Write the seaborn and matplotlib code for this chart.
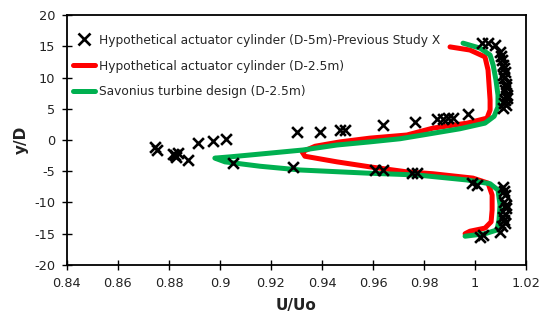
import matplotlib
matplotlib.use("Agg")
import matplotlib.pyplot as plt
import seaborn as sns
import pandas as pd
from matplotlib.ticker import FuncFormatter
from matplotlib.lines import Line2D

# Previous study markers (U/Uo, y/D)
prev_x = [0.8745, 0.8753, 0.8816, 0.8824, 0.8835, 0.8827, 0.8875, 0.8914, 0.8973, 0.9024,
          0.9051, 0.9302, 0.9286, 0.9392, 0.9471, 0.9490, 0.9639, 0.9608, 0.9639, 0.9765,
          0.9851, 0.9875, 0.9894, 0.9914, 0.9973, 0.9753, 0.9773, 0.9988, 1.0008,
          1.0027, 1.0051, 1.0078, 1.0098, 1.0106, 1.0110, 1.0118, 1.0114, 1.0122, 1.0118,
          1.0125, 1.0118, 1.0122, 1.0110, 1.0102, 1.0112, 1.0120, 1.0108, 1.0126, 1.0115,
          1.0110, 1.0118, 1.0114, 1.0122, 1.0118, 1.0114, 1.0106, 1.0098, 1.0020, 1.0031,
          1.0112, 1.0120, 1.0108, 1.0116]
prev_y = [-1.1, -1.6, -2.2, -2.4, -2.1, -2.7, -3.2, -0.5, -0.2, 0.2,
          -3.7, 1.3, -4.3, 1.3, 1.6, 1.6, 2.4, -4.8, -4.8, 2.9,
          3.4, 3.4, 3.5, 3.5, 4.2, -5.3, -5.3, -6.9, -7.2,
          15.5, 15.5, 15.2, 14.1, 12.8, 12.0, 10.9, 9.9, 9.0, 8.0,
          7.2, 6.4, 5.6, 5.1, 13.4, 11.5, 8.5, 10.4, 6.8, 6.0,
          -7.5, -8.8, -9.9, -10.9, -11.8, -12.8, -13.8, -14.7, -15.5, -15.2,
          -8.2, -10.4, -12.3, -13.3]

# Hypothetical actuator cylinder (D-2.5m)
act_x = [0.9902, 0.9980, 1.0039, 1.0051, 1.0055, 1.0059, 1.0059, 1.0047, 0.9969, 0.9835,
         0.9733, 0.9588, 0.9471, 0.9373, 0.9322, 0.9333, 0.9459, 0.9588, 0.9733, 0.9835,
         0.9992, 1.0051, 1.0067, 1.0067, 1.0063, 1.0039, 0.9980, 0.9961]
act_y = [14.9, 14.4, 13.3, 11.2, 8.8, 6.4, 4.8, 3.5, 2.7, 1.9,
         0.8, 0.3, -0.3, -1.0, -1.9, -2.6, -3.5, -4.3, -5.1, -5.4,
         -6.1, -6.9, -8.8, -11.2, -13.1, -14.1, -14.6, -15.0]

# Savonius turbine design (D-2.5m)
sav_x = [0.9953, 1.0020, 1.0059, 1.0071, 1.0082, 1.0090, 1.0090, 1.0075, 1.0039, 0.9941,
         0.9824, 0.9706, 0.9588, 0.9459, 0.9325, 0.9196, 0.9118, 0.9039, 0.8980, 0.9020,
         0.9157, 0.9314, 0.9576, 0.9773, 0.9969, 1.0059, 1.0090, 1.0098, 1.0094, 1.0086,
         1.0039, 0.9961]
sav_y = [15.5, 14.7, 13.6, 12.0, 9.6, 7.2, 5.3, 3.8, 2.7, 1.8,
         1.0, 0.2, -0.3, -0.8, -1.6, -2.1, -2.4, -2.7, -2.9, -3.5,
         -4.2, -4.8, -5.3, -5.6, -6.4, -7.0, -8.0, -10.4, -12.8, -14.4,
         -15.0, -15.4]

labels = ["Hypothetical actuator cylinder (D-5m)-Previous Study X",
          "Hypothetical actuator cylinder (D-2.5m)",
          "Savonius turbine design (D-2.5m)"]
x_ticks = [0.84, 0.86, 0.88, 0.90, 0.92, 0.94, 0.96, 0.98, 1.00, 1.02]
y_ticks = [-20, -15, -10, -5, 0, 5, 10, 15, 20]

sns.set_theme(style="white")
plt.rcParams['font.family'] = ['DejaVu Sans']

fig = plt.figure(figsize=(5.44, 3.2), dpi=100)
ax = fig.add_axes([0.123, 0.172, 0.844, 0.781])

prev_df = pd.DataFrame({"x": prev_x, "y": prev_y})
act_df = pd.DataFrame({"x": act_x, "y": act_y})
sav_df = pd.DataFrame({"x": sav_x, "y": sav_y})

red = "#ff0000"
green = "#00b050"

sns.lineplot(data=act_df, x="x", y="y", sort=False, color=red, linewidth=3.6,
             ax=ax, zorder=2, estimator=None)
sns.lineplot(data=sav_df, x="x", y="y", sort=False, color=green, linewidth=3.6,
             ax=ax, zorder=2.5, estimator=None)
sns.scatterplot(data=prev_df, x="x", y="y", marker="x", color="black", s=60,
                linewidth=1.9, ax=ax, zorder=3)

ax.set_xlim(0.84, 1.02)
ax.set_ylim(-20, 20)
ax.set_xticks(x_ticks)
ax.set_yticks(y_ticks)
ax.xaxis.set_major_formatter(FuncFormatter(lambda v, p: f"{round(v, 2):g}"))
ax.yaxis.set_major_formatter(FuncFormatter(lambda v, p: f"{int(v)}"))
ax.tick_params(axis="both", direction="inout", length=7, width=1, color="black",
               labelsize=9.3, labelcolor="#222222", bottom=True, left=True, pad=5)
for s in ax.spines.values():
    s.set_visible(True)
    s.set_color("black")
    s.set_linewidth(1.3)

ax.set_xlabel("U/Uo", fontsize=11, fontweight="bold", color="#222222", labelpad=6)
ax.set_ylabel("y/D", fontsize=11, fontweight="bold", color="#222222", labelpad=4)

handles = [Line2D([], [], marker="x", color="black", linestyle="none", markersize=8,
                  markeredgewidth=1.9),
           Line2D([], [], color=red, linewidth=3.6),
           Line2D([], [], color=green, linewidth=3.6)]
ax.legend(handles, labels, loc="upper left", bbox_to_anchor=(-0.002, 0.955), frameon=False,
          fontsize=8.85, handlelength=1.8, handletextpad=0.25, labelspacing=1.05,
          borderaxespad=0.2)

fig.savefig("out.png", dpi=100)
